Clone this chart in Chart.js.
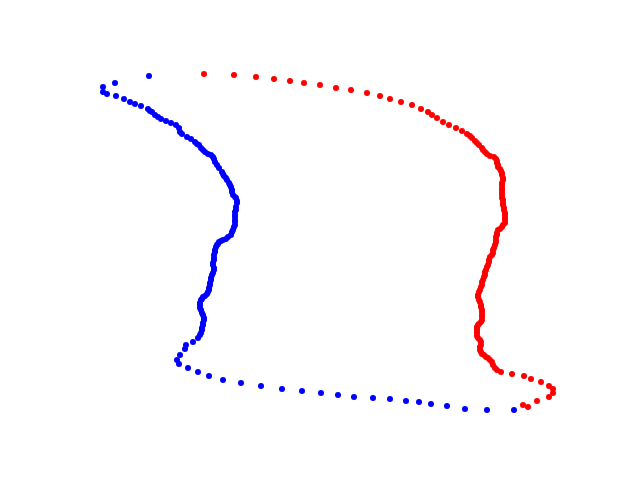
<!DOCTYPE html>
<html>
<head>
<meta charset="utf-8">
<script src="https://cdn.jsdelivr.net/npm/chart.js@4/dist/chart.umd.min.js"></script>
<style>html,body{margin:0;padding:0;background:#fff;}canvas{display:block;}</style>
</head>
<body>
<canvas id="c" width="640" height="480"></canvas>
<script>
// [x, y] pairs (y grows downward)
const bluePoints = [
  [149,76],[115,83],[103,87],[103,92],[107,94],[116,96],[124,99],[130,102],[135,104],[141,106],
  [148,109],[150,111],[152,112],[155,115],[158,117],[161,119],[166,121],[171,123],[176,125],[179,128],
  [180,132],[182,134],[187,137],[191,139],[195,142],[197,144],[199,145],[201,148],[203,150],[205,152],
  [208,154],[211,155],[213,157],[214,159],[215,162],[217,165],[219,168],[222,172],[223,174],[224,176],
  [226,178],[227,180],[229,183],[230,185],[231,187],[232,190],[232,192],[233,195],[235,197],[236,198],
  [237,201],[237,203],[236,207],[236,210],[235,212],[235,215],[235,217],[235,220],[235,222],[235,225],
  [234,227],[233,230],[232,232],[231,235],[228,237],[226,239],[223,240],[221,241],[219,242],[218,244],
  [217,245],[216,247],[215,250],[215,252],[214,255],[214,258],[214,260],[213,263],[213,265],[214,268],
  [214,270],[213,273],[212,275],[211,278],[211,280],[210,283],[210,285],[209,288],[209,290],[208,292],
  [207,294],[205,296],[203,297],[202,299],[201,300],[200,303],[200,305],[200,308],[201,310],[202,313],
  [203,315],[204,318],[204,320],[203,323],[203,325],[202,328],[202,330],[201,333],[200,335],[198,338],
  [193,342],[186,345],[185,349],[180,355],[177,360],[179,364],[188,368],[198,372],[209,376],[223,380],
  [241,383],[261,386],[282,389],[302,391],[321,393],[338,395],[354,397],[373,398],[390,399],[406,401],
  [419,402],[431,404],[447,406],[465,409],[487,410],[514,410]
];
const redPoints = [
  [204,74],[234,75],[256,77],[274,79],[290,81],[304,83],[320,85],[336,88],[351,90],[367,93],
  [380,96],[390,99],[401,102],[412,105],[421,109],[428,112],[432,115],[437,118],[443,122],[449,125],
  [456,128],[462,131],[467,134],[470,136],[472,138],[475,141],[477,143],[479,145],[482,148],[483,150],
  [485,152],[487,154],[490,156],[494,157],[496,159],[497,161],[497,163],[498,165],[498,167],[500,169],
  [501,171],[502,173],[502,175],[503,178],[503,180],[502,183],[502,185],[502,188],[502,190],[502,193],
  [502,195],[502,198],[503,200],[503,203],[503,205],[504,208],[504,210],[505,213],[505,215],[505,218],
  [505,220],[505,223],[503,225],[502,227],[500,229],[498,230],[497,233],[497,235],[496,237],[496,240],
  [496,242],[495,245],[494,248],[493,250],[493,253],[492,255],[490,257],[489,260],[489,262],[488,265],
  [487,267],[486,270],[485,272],[485,275],[484,277],[483,280],[482,282],[482,285],[481,287],[480,290],
  [479,292],[478,295],[478,297],[479,300],[480,302],[481,305],[481,307],[482,310],[482,312],[482,315],
  [482,317],[482,320],[481,322],[479,324],[478,325],[477,327],[477,329],[477,331],[477,333],[477,336],
  [478,338],[480,340],[481,342],[481,345],[480,347],[480,350],[481,352],[482,354],[484,355],[486,357],
  [488,358],[490,360],[492,362],[493,365],[495,368],[497,370],[501,372],[512,374],[524,376],[531,379],
  [541,382],[549,386],[553,389],[553,393],[549,397],[537,401],[528,407],[523,405]
];

const toPts = arr => arr.map(p => ({x: p[0], y: p[1]}));

new Chart(document.getElementById('c'), {
  type: 'scatter',
  data: {
    datasets: [
      {data: toPts(bluePoints), backgroundColor: '#0000ff', borderColor: '#0000ff', borderWidth: 0, pointRadius: 3},
      {data: toPts(redPoints), backgroundColor: '#ff0000', borderColor: '#ff0000', borderWidth: 0, pointRadius: 3}
    ]
  },
  options: {
    responsive: false,
    animation: false,
    layout: {padding: 0, autoPadding: false},
    plugins: {legend: {display: false}, tooltip: {enabled: false}},
    scales: {
      x: {type: 'linear', display: false, min: 0, max: 640},
      y: {type: 'linear', display: false, min: 0, max: 480, reverse: true}
    }
  }
});
</script>
</body>
</html>
